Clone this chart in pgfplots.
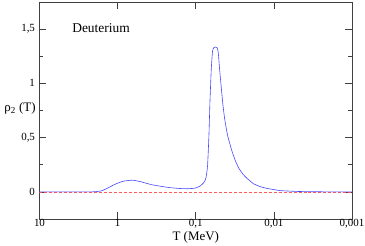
\documentclass[border=0pt]{standalone}
\usepackage{pgfplots}
\pgfplotsset{compat=1.18}
\usepackage{fontspec}
\setmainfont{Liberation Serif}
\definecolor{cblue}{RGB}{70,70,255}
\definecolor{cred}{RGB}{255,90,90}
\begin{document}
\begin{tikzpicture}
\useasboundingbox (-39.5bp,-27bp) rectangle (325.5bp,219bp);
\begin{axis}[
  at={(0,0)}, anchor=south west,
  scale only axis, width=312.5bp, height=217bp,
  xmode=log, x dir=reverse,
  xmin=0.001, xmax=10, ymin=-0.25, ymax=1.75,
  xtick={10,1,0.1,0.01,0.001},
  xticklabels={10,1,{0,1},{0,01},{0,001}},
  ytick={0,0.5,1,1.5},
  yticklabels={0,{0,5},1,{1,5}},
  minor ytick={-0.25,0.25,0.75,1.25,1.75},
  tick align=inside,
  major tick length=7bp, minor tick length=4bp,
  every tick/.style={black!75, line width=0.6pt},
  axis line style={black!75, line width=0.8pt},
  tick label style={font=\fontsize{11}{13}\selectfont},
  /pgf/number format/assume math mode=true,
  xticklabel style={yshift=1.5bp, inner sep=2bp},
  yticklabel style={xshift=-1bp},
  xlabel={T (MeV)},
  xlabel style={font=\fontsize{13}{15}\selectfont, at={(axis description cs:0.5,0)}, anchor=center, yshift=-18.5bp},
  ylabel={ρ\textsubscript{2} (T)},
  ylabel style={font=\fontsize{13}{15}\selectfont, rotate=-90, at={(axis description cs:-0.0624,0.51)}, anchor=center},
]
\addplot[cred, densely dashed, line width=0.6pt] coordinates {(10,0) (0.001,0)};
\addplot[cblue, line width=0.6pt, smooth, tension=0.3] coordinates {
(10,0) (3,0) (2,0.001) (1.6,0.01) (1.3,0.04) (1.08,0.07) (0.85,0.098) (0.65,0.108)
(0.515,0.095) (0.36,0.065) (0.22,0.04) (0.158,0.031) (0.125,0.029) (0.1014,0.035)
(0.0875,0.055) (0.078,0.09) (0.0740,0.13) (0.0706,0.24) (0.0678,0.52) (0.0658,0.83)
(0.0633,1.13) (0.0609,1.30) (0.0585,1.33) (0.0562,1.335) (0.0535,1.33) (0.0519,1.30)
(0.0510,1.25) (0.0495,1.13) (0.0453,0.83) (0.0427,0.676) (0.0391,0.52) (0.0343,0.373)
(0.0312,0.29) (0.0282,0.22) (0.0250,0.165) (0.0221,0.125) (0.0182,0.075)
(0.0149,0.048) (0.0122,0.032) (0.0083,0.012)
(0.005,0.004) (0.003,0.001) (0.001,0)
};
\node[font=\fontsize{13.5}{15}\selectfont] at (axis description cs:0.197,0.88) {Deuterium};
\end{axis}
\end{tikzpicture}
\end{document}
